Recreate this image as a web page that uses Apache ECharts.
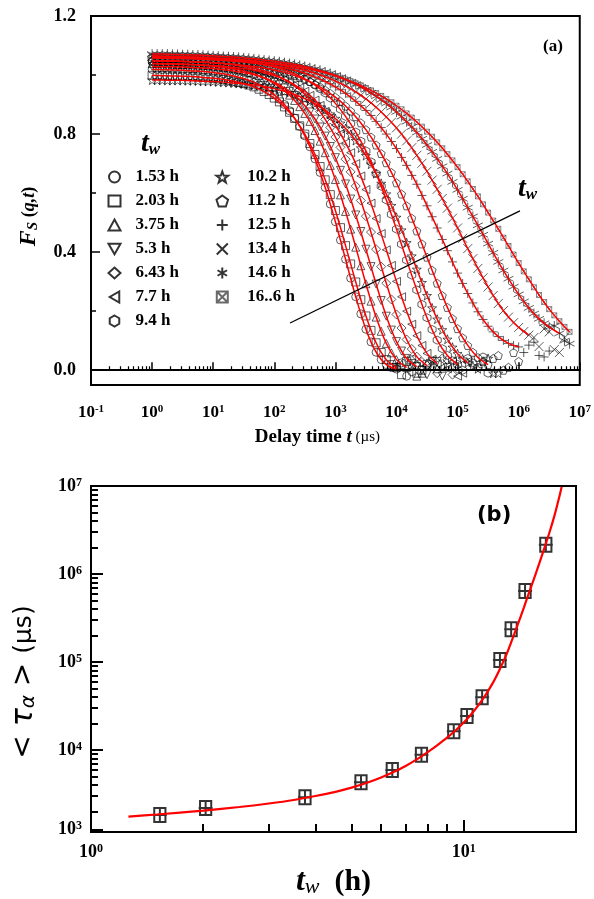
<!DOCTYPE html>
<html><head><meta charset="utf-8">
<script src="https://cdn.jsdelivr.net/npm/echarts@6/dist/echarts.min.js"></script>
<style>html,body{margin:0;padding:0;background:#fff}#c{width:594px;height:899px}</style>
</head><body><div id="c"></div>
<script>
// ---------- Panel (a) data ----------
const twLabels = ['1.53 h','2.03 h','3.75 h','5.3 h','6.43 h','7.7 h','9.4 h','10.2 h','11.2 h','12.5 h','13.4 h','14.6 h','16..6 h'];
// delay times (µs), main grid and intermediate grid
const tGrid = [1, 1.468, 2.154, 3.162, 4.642, 6.813, 10, 14.68, 21.54, 31.62, 46.42, 68.13, 100, 146.8, 215.4, 316.2, 464.2, 681.3, 1000, 1468, 2154, 3162, 4642, 6813, 10000, 14680, 21540, 31620, 46420, 68130, 100000, 146800, 215400, 316200, 464200, 681300, 1000000, 1468000, 2154000, 3162000, 4642000, 6813000];
const tHalf = [1.212, 1.778, 2.610, 3.831, 5.623, 8.254, 12.12, 17.78, 26.10, 38.31, 56.23, 82.54, 121.2, 177.8, 261.0, 383.1, 562.3, 825.4, 1212, 1778, 2610, 3831, 5623, 8254, 12120, 17780, 26100, 38310, 56230, 82540, 121200, 177800, 261000, 383100, 562300, 825400, 1212000, 1778000, 2610000, 3831000, 5623000];
// F_S(q,t) on tGrid
const fs1 = [1.019, 1.018, 1.017, 1.016, 1.014, 1.012, 1.009, 1.004, 0.997, 0.988, 0.975, 0.958, 0.933, 0.900, 0.854, 0.794, 0.716, 0.619, 0.503, 0.376, 0.249, 0.139, 0.061, 0.019, 0.004, -0.02, 0.015];
const fs2 = [0.999, 0.998, 0.997, 0.996, 0.995, 0.992, 0.989, 0.985, 0.979, 0.971, 0.960, 0.944, 0.922, 0.892, 0.853, 0.800, 0.731, 0.645, 0.541, 0.422, 0.299, 0.184, 0.093, 0.036, 0.0095, 0.03, -0.01, 0.02];
const fs3 = [1.039, 1.038, 1.037, 1.036, 1.035, 1.033, 1.030, 1.026, 1.021, 1.014, 1.004, 0.991, 0.972, 0.947, 0.914, 0.870, 0.812, 0.737, 0.646, 0.538, 0.417, 0.293, 0.180, 0.091, 0.036, 0.0097, -0.02, 0.025, 0.005];
const fs4 = [1.029, 1.028, 1.028, 1.027, 1.025, 1.024, 1.022, 1.018, 1.014, 1.008, 1.001, 0.990, 0.976, 0.956, 0.931, 0.896, 0.851, 0.793, 0.720, 0.631, 0.526, 0.410, 0.292, 0.183, 0.097, 0.040, 0.012, -0.015, 0.03, 0.01];
const fs5 = [1.049, 1.048, 1.048, 1.047, 1.045, 1.044, 1.042, 1.039, 1.035, 1.030, 1.023, 1.014, 1.002, 0.985, 0.964, 0.935, 0.898, 0.850, 0.790, 0.715, 0.624, 0.522, 0.410, 0.295, 0.189, 0.104, 0.046, 0.016, -0.01, 0.035, 0.005];
const fs6 = [1.039, 1.038, 1.038, 1.037, 1.036, 1.034, 1.032, 1.030, 1.026, 1.022, 1.016, 1.008, 0.998, 0.985, 0.967, 0.945, 0.915, 0.877, 0.830, 0.770, 0.700, 0.612, 0.514, 0.408, 0.301, 0.200, 0.117, 0.057, 0.022, 0.005, -0.02, 0.03];
const fs7 = [1.059, 1.058, 1.058, 1.057, 1.056, 1.055, 1.053, 1.051, 1.049, 1.045, 1.041, 1.035, 1.027, 1.017, 1.004, 0.987, 0.966, 0.939, 0.904, 0.860, 0.807, 0.743, 0.666, 0.577, 0.478, 0.373, 0.272, 0.178, 0.102, 0.050, 0.020, 0.04, 0.01, -0.01];
const fs8 = [0.983, 0.983, 0.982, 0.982, 0.981, 0.979, 0.978, 0.976, 0.973, 0.970, 0.966, 0.961, 0.954, 0.945, 0.934, 0.920, 0.903, 0.881, 0.853, 0.819, 0.778, 0.727, 0.666, 0.597, 0.518, 0.432, 0.342, 0.253, 0.173, 0.105, 0.056, 0.025, 0.005, 0.04, -0.01];
const fs9 = [1.048, 1.047, 1.047, 1.046, 1.045, 1.043, 1.042, 1.039, 1.037, 1.033, 1.029, 1.024, 1.017, 1.009, 0.998, 0.985, 0.969, 0.949, 0.925, 0.895, 0.859, 0.815, 0.763, 0.703, 0.635, 0.557, 0.472, 0.383, 0.295, 0.213, 0.141, 0.084, 0.043, 0.019, 0.05, 0.01, 0.03];
const fs10 = [1.058, 1.057, 1.056, 1.056, 1.055, 1.053, 1.052, 1.050, 1.047, 1.044, 1.041, 1.036, 1.031, 1.024, 1.016, 1.006, 0.993, 0.978, 0.960, 0.938, 0.911, 0.880, 0.843, 0.800, 0.751, 0.694, 0.630, 0.557, 0.482, 0.405, 0.329, 0.260, 0.198, 0.149, 0.114, 0.091, 0.079, 0.085, 0.05, 0.065];
const fs11 = [1.062, 1.062, 1.061, 1.060, 1.059, 1.058, 1.056, 1.054, 1.052, 1.049, 1.046, 1.042, 1.037, 1.031, 1.024, 1.016, 1.006, 0.994, 0.980, 0.963, 0.943, 0.919, 0.891, 0.858, 0.821, 0.777, 0.728, 0.674, 0.613, 0.549, 0.482, 0.412, 0.345, 0.282, 0.226, 0.180, 0.145, 0.119, 0.08, 0.13, 0.06];
const fs12 = [1.071, 1.071, 1.070, 1.069, 1.068, 1.067, 1.065, 1.063, 1.061, 1.058, 1.055, 1.051, 1.047, 1.042, 1.036, 1.029, 1.020, 1.010, 0.999, 0.985, 0.969, 0.950, 0.928, 0.904, 0.875, 0.842, 0.805, 0.763, 0.716, 0.666, 0.611, 0.551, 0.491, 0.429, 0.367, 0.310, 0.257, 0.211, 0.174, 0.146, 0.125, 0.09];
const fs13 = [1.065, 1.064, 1.063, 1.062, 1.061, 1.060, 1.058, 1.056, 1.054, 1.051, 1.048, 1.044, 1.040, 1.035, 1.030, 1.023, 1.016, 1.007, 0.997, 0.985, 0.972, 0.956, 0.939, 0.919, 0.896, 0.870, 0.841, 0.808, 0.772, 0.732, 0.688, 0.640, 0.589, 0.534, 0.479, 0.421, 0.363, 0.308, 0.255, 0.207, 0.166, 0.130];
// F_S(q,t) on tHalf
const h1 = [1.019, 1.018, 1.017, 1.015, 1.013, 1.011, 1.007, 1.001, 0.993, 0.982, 0.967, 0.946, 0.918, 0.879, 0.826, 0.757, 0.670, 0.563, 0.441, 0.312, 0.191, 0.096, 0.036, 0.009, 0.025, -0.005];
const h2 = [0.999, 0.998, 0.997, 0.996, 0.994, 0.991, 0.987, 0.982, 0.975, 0.966, 0.952, 0.934, 0.909, 0.874, 0.828, 0.768, 0.690, 0.595, 0.483, 0.360, 0.239, 0.135, 0.060, 0.019, -0.015, 0.035, 0.0];
const h3 = [1.039, 1.038, 1.036, 1.035, 1.034, 1.032, 1.028, 1.024, 1.018, 1.009, 0.998, 0.982, 0.961, 0.932, 0.893, 0.843, 0.776, 0.694, 0.594, 0.478, 0.354, 0.234, 0.132, 0.059, 0.020, 0.02, -0.01, 0.015];
const h4 = [1.029, 1.028, 1.027, 1.026, 1.024, 1.023, 1.020, 1.016, 1.011, 1.005, 0.996, 0.983, 0.967, 0.944, 0.914, 0.875, 0.824, 0.758, 0.677, 0.580, 0.470, 0.351, 0.236, 0.136, 0.065, 0.023, 0.0, 0.03, -0.02];
const h5 = [1.049, 1.048, 1.047, 1.046, 1.044, 1.043, 1.041, 1.037, 1.033, 1.027, 1.019, 1.008, 0.994, 0.975, 0.950, 0.918, 0.876, 0.822, 0.755, 0.672, 0.575, 0.468, 0.351, 0.240, 0.143, 0.072, 0.028, 0.015, 0.04, -0.015];
const h6 = [1.039, 1.038, 1.037, 1.037, 1.035, 1.033, 1.031, 1.028, 1.024, 1.019, 1.012, 1.003, 0.992, 0.977, 0.957, 0.931, 0.897, 0.855, 0.802, 0.737, 0.658, 0.566, 0.463, 0.355, 0.249, 0.156, 0.084, 0.037, 0.01, 0.03, -0.01];
const h7 = [1.059, 1.058, 1.057, 1.057, 1.055, 1.054, 1.052, 1.050, 1.047, 1.043, 1.038, 1.031, 1.022, 1.011, 0.996, 0.977, 0.953, 0.922, 0.884, 0.835, 0.776, 0.706, 0.623, 0.528, 0.427, 0.322, 0.223, 0.138, 0.073, 0.032, 0.0, 0.025, 0.045];
const h8 = [0.983, 0.982, 0.982, 0.981, 0.980, 0.979, 0.977, 0.975, 0.972, 0.968, 0.964, 0.958, 0.950, 0.940, 0.928, 0.912, 0.892, 0.868, 0.837, 0.799, 0.753, 0.698, 0.633, 0.558, 0.475, 0.387, 0.297, 0.211, 0.137, 0.078, 0.038, 0.015, 0.03, -0.01];
const h9 = [1.048, 1.047, 1.046, 1.045, 1.044, 1.043, 1.041, 1.038, 1.035, 1.031, 1.027, 1.021, 1.013, 1.004, 0.992, 0.978, 0.960, 0.938, 0.911, 0.878, 0.838, 0.790, 0.734, 0.670, 0.597, 0.515, 0.428, 0.339, 0.253, 0.175, 0.110, 0.061, 0.029, 0.04, 0.0, 0.06];
const h10 = [1.058, 1.057, 1.056, 1.055, 1.054, 1.053, 1.051, 1.049, 1.046, 1.043, 1.039, 1.034, 1.028, 1.020, 1.011, 1.000, 0.986, 0.970, 0.950, 0.926, 0.897, 0.863, 0.822, 0.775, 0.721, 0.660, 0.592, 0.520, 0.443, 0.367, 0.294, 0.228, 0.172, 0.130, 0.101, 0.084, 0.06, 0.095, 0.045];
const h11 = [1.062, 1.061, 1.061, 1.060, 1.058, 1.057, 1.055, 1.053, 1.051, 1.048, 1.044, 1.040, 1.034, 1.028, 1.020, 1.011, 0.999, 0.987, 0.972, 0.953, 0.931, 0.905, 0.875, 0.840, 0.800, 0.754, 0.701, 0.644, 0.582, 0.515, 0.447, 0.378, 0.313, 0.253, 0.202, 0.161, 0.131, 0.111, 0.14, 0.07, 0.11];
const h12 = [1.071, 1.071, 1.070, 1.069, 1.068, 1.066, 1.064, 1.062, 1.060, 1.057, 1.053, 1.049, 1.045, 1.039, 1.033, 1.025, 1.016, 1.005, 0.992, 0.977, 0.960, 0.940, 0.916, 0.890, 0.859, 0.824, 0.784, 0.740, 0.691, 0.638, 0.581, 0.521, 0.459, 0.398, 0.338, 0.283, 0.233, 0.192, 0.159, 0.15, 0.10];
const h13 = [1.065, 1.064, 1.063, 1.062, 1.061, 1.059, 1.057, 1.055, 1.053, 1.050, 1.046, 1.042, 1.038, 1.033, 1.027, 1.020, 1.012, 1.002, 0.991, 0.979, 0.965, 0.948, 0.929, 0.908, 0.884, 0.856, 0.825, 0.791, 0.752, 0.711, 0.664, 0.614, 0.562, 0.507, 0.449, 0.392, 0.335, 0.281, 0.231, 0.186, 0.147];
const fitEnd = [25, 25, 26, 27, 28, 29, 31, 32, 34, 37, 38, 41, 42];
const xTicksA = [0.1, 1, 10, 100, 1000, 1e4, 1e5, 1e6, 1e7];
const yTicksA = [0, 0.4, 0.8, 1.2];
const yMinorA = [0.2, 0.6, 1.0];
const arrowFrom = [181, 0.16];
const arrowTo = [1.05e6, 0.54];

// ---------- Panel (b) data ----------
const twB = [1.53, 2.03, 3.75, 5.3, 6.43, 7.7, 9.4, 10.2, 11.2, 12.5, 13.4, 14.6, 16.6];
const tauB = [1820, 2180, 2900, 4270, 5910, 8770, 16300, 24300, 39600, 105000, 235000, 640000, 2150000];
const fitTw = [1.26, 1.5, 2, 2.5, 3, 3.5, 4, 4.5, 5, 5.5, 6, 6.5, 7, 7.5, 8, 8.5, 9, 9.5, 10, 10.5, 11, 11.5, 12, 12.5, 13, 13.5, 14, 14.5, 15, 15.5, 16, 16.5, 17, 17.5, 18, 18.3];
const fitTau = [1738, 1841, 2042, 2239, 2455, 2692, 2985, 3311, 3715, 4217, 4842, 5623, 6607, 7852, 9441, 11350, 13650, 16600, 20420, 25700, 33110, 43650, 58880, 83180, 120200, 182000, 275400, 416900, 631000, 933000, 1380000, 2042000, 3020000, 4571000, 7244000, 9772000];
const xTicksB = [1, 10];
const yTicksB = [1250, 1e4, 1e5, 1e6, 1e7];

const fsAll = [fs1, fs2, fs3, fs4, fs5, fs6, fs7, fs8, fs9, fs10, fs11, fs12, fs13];
const hAll = [h1, h2, h3, h4, h5, h6, h7, h8, h9, h10, h11, h12, h13];
const symbols = [
  'circle', 'rect', 'triangle',
  'path://M0,0L10,0L5,8.66Z',
  'diamond',
  'path://M8.66,0L8.66,10L0,5Z',
  'path://M5,0L9.33,2.5L9.33,7.5L5,10L0.67,7.5L0.67,2.5Z',
  'path://M5,0L6.18,3.38L9.76,3.45L6.9,5.62L7.94,9.05L5,7L2.06,9.05L3.1,5.62L0.24,3.45L3.82,3.38Z',
  'path://M5,0L9.76,3.45L7.94,9.05L2.06,9.05L0.24,3.45Z',
  'path://M5,0L5,10M0,5L10,5',
  'path://M0,0L10,10M10,0L0,10',
  'path://M5,0L5,10M0.67,2.5L9.33,7.5M0.67,7.5L9.33,2.5',
  'path://M0,0L10,0L10,10L0,10ZM0,0L10,10M10,0L0,10'
];
const symSizes = [8, 8, 8, 8, 9, 8, 8, 9, 8, 9, 9, 10, 5];

const serif = '"Liberation Serif", "Times New Roman", serif';
const sans = '"DejaVu Sans", sans-serif';

function minorLog(lo, hi) {
  const out = [];
  for (let e = Math.floor(Math.log10(lo)); e < Math.log10(hi); e++) {
    for (let m = 2; m <= 9; m++) { const v = m * Math.pow(10, e); if (v > lo && v < hi) out.push(v); }
  }
  return out;
}
function powLabel(v) { return '{b|10}{s|' + Math.round(Math.log10(v)) + '}'; }
function supRich(bs, ss) {
  return {
    b: { fontFamily: serif, fontWeight: 'bold', fontSize: bs, color: '#000' },
    s: { fontFamily: serif, fontWeight: 'bold', fontSize: ss, color: '#000', verticalAlign: 'top' }
  };
}

const chart = echarts.init(document.getElementById('c'));
const blk = '#000';
const series = [];
fsAll.forEach((arr, i) => {
  const pts = arr.map((f, k) => [tGrid[k], f]).concat(hAll[i].map((f, k) => [tHalf[k], f]));
  series.push({
    type: 'scatter', name: twLabels[i], xAxisIndex: 0, yAxisIndex: 0,
    data: pts, symbol: symbols[i], symbolSize: symSizes[i],
    itemStyle: { color: 'none', borderColor: i === 12 ? '#444' : blk, borderWidth: 0.8 },
    z: 2, silent: true
  });
});
fsAll.forEach((arr, i) => {
  const pts = arr.slice(0, fitEnd[i]).map((f, k) => [tGrid[k], f]);
  const s = {
    type: 'line', xAxisIndex: 0, yAxisIndex: 0, data: pts, smooth: 0.35,
    showSymbol: false, symbol: 'none', lineStyle: { color: '#ff0000', width: 1.5 }, z: 4, silent: true
  };
  if (i === 0) {
    s.markLine = {
      silent: true, symbol: ['none', 'arrow'], symbolSize: [0, 10], z: 6,
      lineStyle: { color: blk, width: 1.3, type: 'solid' }, label: { show: false },
      data: [[{ coord: arrowFrom }, { coord: arrowTo }]]
    };
  }
  series.push(s);
});
series.push({
  type: 'line', xAxisIndex: 2, yAxisIndex: 2, data: fitTw.map((t, k) => [t, fitTau[k]]),
  smooth: 0.3, showSymbol: false, symbol: 'none', lineStyle: { color: '#ff0000', width: 2.2 }, z: 4, silent: true
});
series.push({
  type: 'scatter', xAxisIndex: 2, yAxisIndex: 2, data: twB.map((t, k) => [t, tauB[k]]),
  symbol: 'path://M1,0L9,0L9,10L1,10ZM5,0L5,10M0,5L10,5', symbolSize: 14,
  itemStyle: { color: 'none', borderColor: blk, borderWidth: 2 }, z: 3, silent: true
});

const legendText = { fontFamily: serif, fontWeight: 'bold', fontSize: 17, color: blk, lineHeight: 20 };

chart.setOption({
  animation: false,
  backgroundColor: '#fff',
  grid: [
    { left: 91, top: 16, width: 489, height: 369, show: true, borderColor: blk, borderWidth: 2, backgroundColor: 'transparent' },
    { left: 91, top: 486, width: 485, height: 348, show: true, borderColor: blk, borderWidth: 2, backgroundColor: 'transparent' }
  ],
  legend: [
    { orient: 'vertical', left: 101, top: 162, data: twLabels.slice(0, 7), itemWidth: 12, itemHeight: 11, itemGap: 4,
      selectedMode: false, textStyle: Object.assign({ padding: [0, 0, 0, 10] }, legendText) },
    { orient: 'vertical', left: 209, top: 162, data: twLabels.slice(7), itemWidth: 12, itemHeight: 11, itemGap: 4,
      selectedMode: false, textStyle: Object.assign({ padding: [0, 0, 0, 14] }, legendText) }
  ],
  xAxis: [
    { type: 'log', gridIndex: 0, min: 0.1, max: 1e7, logBase: 10,
      name: '{a|Delay time }{t|t}{u| (µs)}', nameLocation: 'middle', nameGap: 43,
      nameTextStyle: { padding: [0, 36, 0, 0], rich: {
        a: { fontFamily: serif, fontWeight: 'bold', fontSize: 19, color: blk },
        t: { fontFamily: serif, fontWeight: 'bold', fontStyle: 'italic', fontSize: 19, color: blk },
        u: { fontFamily: serif, fontSize: 15, color: blk } } },
      axisLine: { show: true, lineStyle: { color: blk, width: 2 } },
      axisTick: { show: true, inside: true, length: 8, customValues: xTicksA, lineStyle: { color: blk, width: 1.5 } },
      axisLabel: { customValues: xTicksA, formatter: powLabel, margin: 19, rich: supRich(17, 11) },
      splitLine: { show: false }, minorTick: { show: false } },
    { type: 'log', gridIndex: 0, min: 0.1, max: 1e7, logBase: 10, position: 'bottom',
      axisLine: { show: false }, axisLabel: { show: false }, splitLine: { show: false },
      axisTick: { show: true, inside: true, length: 4, customValues: minorLog(0.1, 1e7), lineStyle: { color: blk, width: 1.2 } } },
    { type: 'log', gridIndex: 1, min: 1, max: 20, logBase: 10,
      name: '{t|t}{w|w}{h|  (h)}', nameLocation: 'middle', nameGap: 34,
      nameTextStyle: { rich: {
        t: { fontFamily: serif, fontWeight: 'bold', fontStyle: 'italic', fontSize: 32, color: blk },
        w: { fontFamily: serif, fontStyle: 'italic', fontSize: 22, color: blk, verticalAlign: 'bottom' },
        h: { fontFamily: serif, fontWeight: 'bold', fontSize: 30, color: blk } } },
      axisLine: { show: true, lineStyle: { color: blk, width: 2 } },
      axisTick: { show: true, inside: true, length: 12, customValues: xTicksB, lineStyle: { color: blk, width: 2 } },
      axisLabel: { customValues: xTicksB, formatter: powLabel, margin: 11, rich: supRich(18, 12) },
      splitLine: { show: false } },
    { type: 'log', gridIndex: 1, min: 1, max: 20, logBase: 10, position: 'bottom',
      axisLine: { show: false }, axisLabel: { show: false }, splitLine: { show: false },
      axisTick: { show: true, inside: true, length: 8, customValues: minorLog(1, 20), lineStyle: { color: blk, width: 2 } } }
  ],
  yAxis: [
    { type: 'value', gridIndex: 0, min: -0.05, max: 1.2,
      name: '{f|F}{s|S}{p| (}{i|q,t}{p|)}', nameLocation: 'middle', nameRotate: 90, nameGap: 50,
      nameTextStyle: { padding: [0, 32, 0, 0], rich: {
        f: { fontFamily: serif, fontWeight: 'bold', fontStyle: 'italic', fontSize: 24, color: blk },
        s: { fontFamily: serif, fontWeight: 'bold', fontStyle: 'italic', fontSize: 15, color: blk, verticalAlign: 'bottom' },
        p: { fontFamily: serif, fontWeight: 'bold', fontSize: 18, color: blk },
        i: { fontFamily: serif, fontWeight: 'bold', fontStyle: 'italic', fontSize: 18, color: blk } } },
      axisLine: { show: true, lineStyle: { color: blk, width: 2 } },
      axisTick: { show: true, inside: true, length: 9, customValues: yTicksA, lineStyle: { color: blk, width: 1.5 } },
      axisLabel: { customValues: yTicksA, formatter: v => v.toFixed(1), margin: 15,
        fontFamily: serif, fontWeight: 'bold', fontSize: 18, color: blk },
      splitLine: { show: false } },
    { type: 'value', gridIndex: 0, min: -0.05, max: 1.2, position: 'left',
      axisLine: { show: false }, axisLabel: { show: false }, splitLine: { show: false },
      axisTick: { show: true, inside: true, length: 5, customValues: yMinorA, lineStyle: { color: blk, width: 1.5 } } },
    { type: 'log', gridIndex: 1, min: 1164, max: 1e7, logBase: 10,
      name: '{a|< }{t|τ}{s|α}{a| > }{u|(μs)}', nameLocation: 'middle', nameRotate: 90, nameGap: 52,
      nameTextStyle: { padding: [0, 46, 0, 0], rich: {
        a: { fontFamily: sans, fontSize: 28, color: blk },
        t: { fontFamily: sans, fontStyle: 'italic', fontSize: 30, color: blk },
        s: { fontFamily: sans, fontStyle: 'italic', fontSize: 20, color: blk, verticalAlign: 'bottom' },
        u: { fontFamily: sans, fontSize: 25, color: blk } } },
      axisLine: { show: true, lineStyle: { color: blk, width: 2 } },
      axisTick: { show: true, inside: true, length: 12, customValues: yTicksB, lineStyle: { color: blk, width: 2 } },
      axisLabel: { customValues: yTicksB, formatter: powLabel, margin: 9, rich: supRich(18, 12) },
      splitLine: { show: false } },
    { type: 'log', gridIndex: 1, min: 1164, max: 1e7, logBase: 10, position: 'left',
      axisLine: { show: false }, axisLabel: { show: false }, splitLine: { show: false },
      axisTick: { show: true, inside: true, length: 7, customValues: minorLog(1164, 1e7), lineStyle: { color: blk, width: 2 } } }
  ],
  graphic: [
    { type: 'text', left: 543, top: 38, style: { text: '(a)', font: 'bold 17px ' + serif, fill: blk } },
    { type: 'text', left: 141, top: 130, style: { text: '{t|t}{w|w}', rich: {
        t: { fontFamily: serif, fontWeight: 'bold', fontStyle: 'italic', fontSize: 28, fill: blk },
        w: { fontFamily: serif, fontWeight: 'bold', fontStyle: 'italic', fontSize: 17, fill: blk, verticalAlign: 'bottom' } } } },
    { type: 'text', left: 518, top: 175, style: { text: '{t|t}{w|w}', rich: {
        t: { fontFamily: serif, fontWeight: 'bold', fontStyle: 'italic', fontSize: 28, fill: blk },
        w: { fontFamily: serif, fontWeight: 'bold', fontStyle: 'italic', fontSize: 17, fill: blk, verticalAlign: 'bottom' } } } },
    { type: 'text', left: 477, top: 505, style: { text: '(b)', font: 'bold 21px ' + sans, fill: blk } }
  ],
  series: series
});
</script></body></html>
